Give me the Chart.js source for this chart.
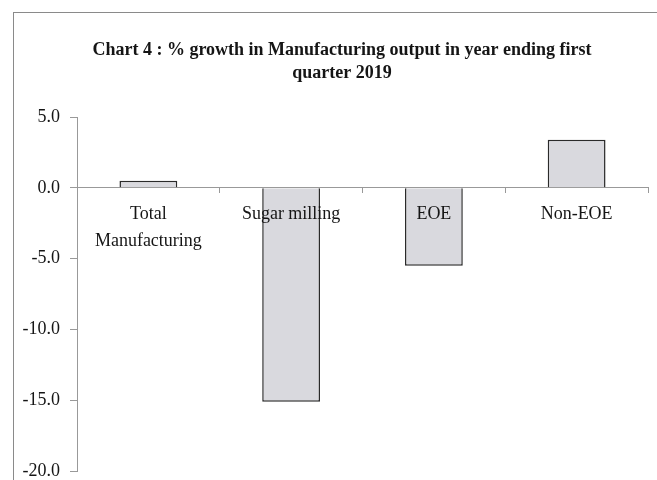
<!DOCTYPE html>
<html>
<head>
<meta charset="utf-8">
<script src="https://cdn.jsdelivr.net/npm/chart.js"></script>
<style>
  body { margin: 0; background: #fff; }
  /* the scan is cropped just under the -20.0 label, so the canvas runs a bit past the window */
  #wrap { width: 657px; height: 480px; overflow: hidden; }
</style>
</head>
<body>
<div id="wrap"><canvas id="growthChart" width="657" height="490"></canvas></div>
<script>
// data
const categories = [['Total', 'Manufacturing'], 'Sugar milling', 'EOE', 'Non-EOE'];
const growth = [0.5, -15.1, -5.5, 3.4];
const yTicks = [-20, -15, -10, -5, 0, 5];

const serif = "'Liberation Serif', 'Times New Roman', serif";

// grey frame around the chart (cut off on the right and bottom like the scan),
// and nudge the title a little to the right, it is centred on the whole frame there
const frame = {
    id: 'frame',
    afterLayout(chart) {
        chart.titleBlock.left += 7;
        chart.titleBlock.right += 7;
    },
    beforeDraw(chart) {
        const c = chart.ctx;
        c.save();
        c.strokeStyle = '#8a8a8a';
        c.lineWidth = 1;
        c.strokeRect(13.5, 12.5, 700, 500);
        c.restore();
    }
};

const ctx = document.getElementById('growthChart');

new Chart(ctx, {
    type: 'bar',
    data: {
        labels: categories,
        datasets: [{
            data: growth,
            backgroundColor: '#d9d9de',
            borderColor: '#2a2a2a',
            borderWidth: 1.5,
            barPercentage: 0.405,
            categoryPercentage: 1.0
        }]
    },
    options: {
        responsive: false,
        animation: false,
        layout: {
            padding: { left: 22, right: 9, top: 0, bottom: 0 }
        },
        plugins: {
            legend: { display: false },
            tooltip: { enabled: false },
            title: {
                display: true,
                text: ['Chart 4 : % growth in Manufacturing output in year ending first', 'quarter 2019'],
                color: '#151515',
                font: { family: serif, size: 18, weight: 'bold', lineHeight: 1.28 },
                padding: { top: 39, bottom: 32 }
            }
        },
        scales: {
            x: {
                position: { y: 0 },
                afterFit: (scale) => { scale.height = 0; },
                grid: {
                    drawOnChartArea: false,
                    offset: true,
                    tickLength: 5,
                    color: '#999'
                },
                border: { color: '#999', width: 1 },
                ticks: {
                    z: 1,
                    color: '#151515',
                    maxRotation: 0,
                    autoSkip: false,
                    padding: 8,
                    font: { family: serif, size: 18, lineHeight: 1.5 }
                }
            },
            y: {
                min: -20,
                max: 5,
                afterFit: (scale) => { scale.width = 55; },
                afterBuildTicks: (scale) => { scale.ticks = yTicks.map(v => ({ value: v })); },
                grid: {
                    drawOnChartArea: false,
                    tickLength: 7,
                    color: '#999'
                },
                border: { color: '#999', width: 1 },
                ticks: {
                    color: '#151515',
                    padding: 10,
                    font: { family: serif, size: 18, lineHeight: 1 },
                    callback: (v) => Number(v).toFixed(1)
                }
            }
        }
    },
    plugins: [frame]
});
</script>
</body>
</html>
